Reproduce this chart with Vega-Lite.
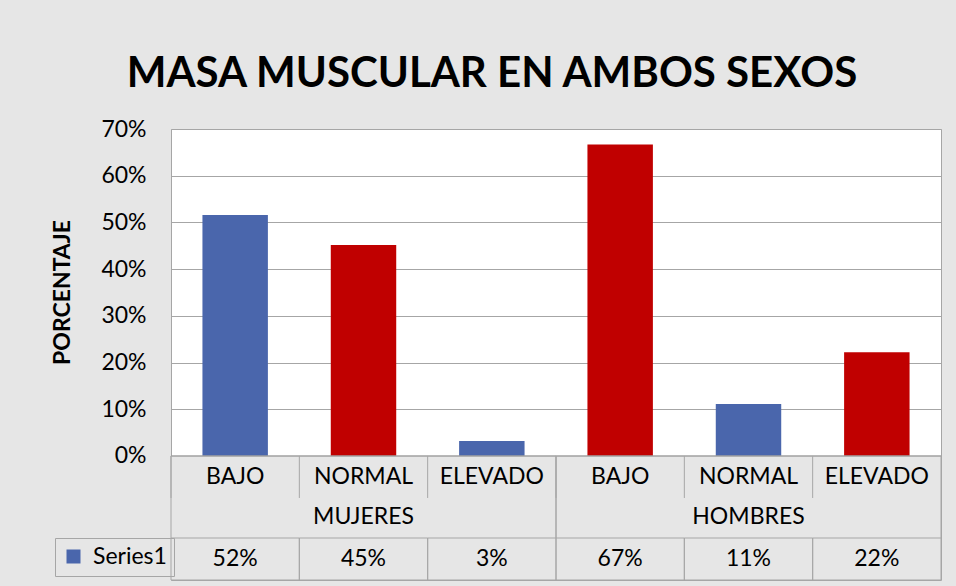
{
  "$schema": "https://vega.github.io/schema/vega-lite/v6.json",
  "width": 770,
  "height": 451,
  "autosize": {"type": "none"},
  "padding": {"left": 171, "top": 129, "right": 15, "bottom": 6},
  "background": "#e6e6e6",
  "title": {
    "text": "MASA MUSCULAR EN AMBOS SEXOS",
    "font": "Lato",
    "fontSize": 42,
    "fontWeight": "bold",
    "color": "#000000",
    "anchor": "middle",
    "frame": "group",
    "baseline": "alphabetic",
    "dx": -64,
    "offset": -11
  },
  "config": {
    "view": {"fill": "#ffffff", "stroke": "#a6a6a6", "strokeWidth": 1},
    "font": "Lato"
  },
  "datasets": {
    "cells": [
      {"id": "MUJERES-BAJO", "cat": "BAJO", "group": "MUJERES", "series": "Series1", "value": 0.5161},
      {"id": "MUJERES-NORMAL", "cat": "NORMAL", "group": "MUJERES", "series": "Series1", "value": 0.4516},
      {"id": "MUJERES-ELEVADO", "cat": "ELEVADO", "group": "MUJERES", "series": "Series1", "value": 0.0323},
      {"id": "HOMBRES-BAJO", "cat": "BAJO", "group": "HOMBRES", "series": "Series1", "value": 0.6667},
      {"id": "HOMBRES-NORMAL", "cat": "NORMAL", "group": "HOMBRES", "series": "Series1", "value": 0.1111},
      {"id": "HOMBRES-ELEVADO", "cat": "ELEVADO", "group": "HOMBRES", "series": "Series1", "value": 0.2222}
    ],
    "groups": [
      {"group": "MUJERES", "first": "MUJERES-BAJO", "mid": "MUJERES-NORMAL", "last": "MUJERES-ELEVADO"},
      {"group": "HOMBRES", "first": "HOMBRES-BAJO", "mid": "HOMBRES-NORMAL", "last": "HOMBRES-ELEVADO"}
    ],
    "one": [{}]
  },
  "layer": [
    {
      "data": {"name": "one"},
      "mark": {"type": "rect", "fill": "#e6e6e6"},
      "encoding": {
        "y": {"datum": -0.2655, "type": "quantitative", "scale": {"domain": [-0.2655, 0.7], "nice": false, "zero": false}},
        "y2": {"datum": 0}
      }
    },
    {
      "data": {"name": "cells"},
      "mark": {"type": "bar", "width": {"band": 0.51}},
      "encoding": {
        "x": {
          "field": "id", "type": "nominal", "sort": null, "axis": null,
          "scale": {"domain": ["MUJERES-BAJO", "MUJERES-NORMAL", "MUJERES-ELEVADO", "HOMBRES-BAJO", "HOMBRES-NORMAL", "HOMBRES-ELEVADO"], "paddingInner": 0, "paddingOuter": 0}
        },
        "y": {
          "field": "value", "type": "quantitative",
          "axis": {
            "title": "PORCENTAJE",
            "values": [0, 0.1, 0.2, 0.3, 0.4, 0.5, 0.6, 0.7],
            "format": ".0%",
            "grid": true, "gridColor": "#a6a6a6", "gridWidth": 1,
            "domain": false, "ticks": false,
            "labelFont": "Lato", "labelFontSize": 23, "labelColor": "#000000", "labelPadding": 25,
            "titleFont": "Lato", "titleFontSize": 23, "titleFontWeight": "bold", "titleColor": "#000000",
            "titleAngle": 270, "titleAlign": "center", "titleBaseline": "middle",
            "titleX": -109, "titleY": 163
          }
        },
        "color": {
          "condition": {"test": "datum.id == 'MUJERES-NORMAL' || datum.id == 'HOMBRES-BAJO' || datum.id == 'HOMBRES-ELEVADO'", "value": "#C00000"},
          "field": "series", "type": "nominal",
          "scale": {"range": ["#4A66AC"]},
          "legend": {
            "title": null, "orient": "none", "legendX": -116, "legendY": 409,
            "symbolType": "square", "symbolSize": 196, "symbolStrokeWidth": 0,
            "labelFont": "Lato", "labelFontSize": 23, "labelColor": "#000000", "labelOffset": 8,
            "padding": 7, "strokeColor": "#a6a6a6"
          }
        }
      }
    },
    {
      "data": {"name": "one"},
      "mark": {"type": "rule", "color": "#a0a0a0", "strokeWidth": 1.5},
      "encoding": {"y": {"datum": 0}}
    },
    {
      "data": {"name": "cells"},
      "mark": {"type": "rule", "color": "#a6a6a6", "strokeWidth": 1},
      "encoding": {
        "x": {"field": "id", "type": "nominal", "bandPosition": 0, "axis": null},
        "y": {"datum": 0},
        "y2": {"datum": -0.0899}
      }
    },
    {
      "data": {"name": "groups"},
      "mark": {"type": "rule", "color": "#a6a6a6", "strokeWidth": 1},
      "encoding": {
        "x": {"field": "first", "type": "nominal", "bandPosition": 0, "axis": null},
        "y": {"datum": 0},
        "y2": {"datum": -0.1756}
      }
    },
    {
      "data": {"name": "groups"},
      "mark": {"type": "rule", "color": "#a6a6a6", "strokeWidth": 1},
      "encoding": {
        "x": {"field": "last", "type": "nominal", "bandPosition": 1, "axis": null},
        "y": {"datum": 0},
        "y2": {"datum": -0.1756}
      }
    },
    {
      "data": {"name": "cells"},
      "mark": {"type": "rect", "fill": "transparent", "stroke": "#a6a6a6", "strokeWidth": 1},
      "encoding": {
        "x": {"field": "id", "type": "nominal", "axis": null},
        "y": {"datum": -0.1756},
        "y2": {"datum": -0.2655}
      }
    },
    {
      "data": {"name": "cells"},
      "mark": {"type": "text", "font": "Lato", "fontSize": 23, "color": "#000000", "baseline": "middle", "align": "center"},
      "encoding": {
        "x": {"field": "id", "type": "nominal", "axis": null},
        "y": {"datum": -0.045},
        "text": {"field": "cat"}
      }
    },
    {
      "data": {"name": "groups"},
      "mark": {"type": "text", "font": "Lato", "fontSize": 23, "color": "#000000", "baseline": "middle", "align": "center"},
      "encoding": {
        "x": {"field": "mid", "type": "nominal", "axis": null},
        "y": {"datum": -0.1305},
        "text": {"field": "group"}
      }
    },
    {
      "data": {"name": "cells"},
      "mark": {"type": "text", "font": "Lato", "fontSize": 23, "color": "#000000", "baseline": "middle", "align": "center"},
      "encoding": {
        "x": {"field": "id", "type": "nominal", "axis": null},
        "y": {"datum": -0.2215},
        "text": {"field": "value", "format": ".0%"}
      }
    }
  ]
}
